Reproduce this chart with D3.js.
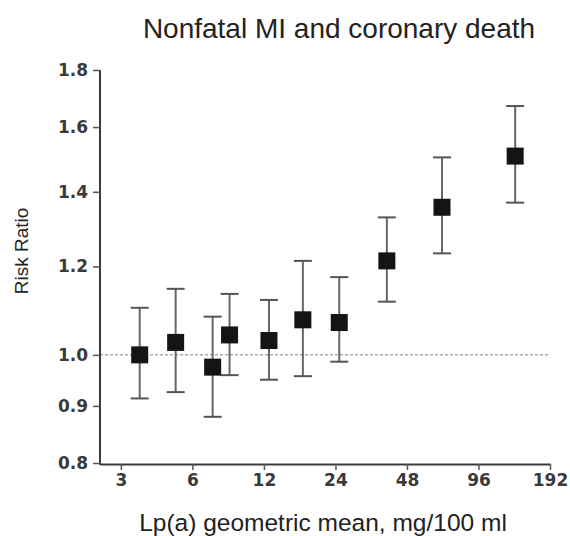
<!DOCTYPE html>
<html>
<head>
<meta charset="utf-8">
<script src="https://cdn.jsdelivr.net/npm/d3@7"></script>
<style>
  body { margin: 0; background: #fff; }
  svg { display: block; }
</style>
</head>
<body>
<div id="plotDiv"></div>
<script>
// --- Data ---
const lpaMeans = [3.6, 5.1, 7.3, 8.6, 12.6, 17.5, 24.9, 39.5, 67.4, 137];
const riskRatio = [1.00, 1.026, 0.975, 1.042, 1.030, 1.075, 1.069, 1.214, 1.356, 1.507];
const ciLower = [0.914, 0.926, 0.880, 0.959, 0.950, 0.957, 0.986, 1.116, 1.233, 1.369];
const ciUpper = [1.102, 1.146, 1.082, 1.134, 1.120, 1.214, 1.174, 1.328, 1.503, 1.671];
const xTicks = [3, 6, 12, 24, 48, 96, 192];
const yTicks = [0.8, 0.9, 1.0, 1.2, 1.4, 1.6, 1.8];

const points = lpaMeans.map((x, i) => ({x: x, rr: riskRatio[i], lo: ciLower[i], hi: ciUpper[i]}));

// --- SVG Setup ---
const width = 570, height = 536;
const svg = d3.select("#plotDiv")
  .append("svg")
  .attr("width", width)
  .attr("height", height);

// --- Scales ---
const x = d3.scaleLog().base(2).domain([2.45, 192]).range([100, 550]);
const y = d3.scaleLog().domain([0.8, 1.8]).range([463, 70]);

// reference line at 1.0
svg.append("line")
  .attr("x1", 100).attr("x2", 550)
  .attr("y1", y(1)).attr("y2", y(1))
  .attr("stroke", "#aaa")
  .attr("stroke-width", 1.5)
  .attr("stroke-dasharray", "3,2");

// --- Axes ---
const xAxis = svg.append("g")
  .attr("transform", `translate(0, 464)`)
  .call(d3.axisBottom(x).tickValues(xTicks).tickFormat(d3.format("d")).tickSize(6).tickSizeOuter(0).tickPadding(4));

const yAxis = svg.append("g")
  .attr("transform", `translate(100, 0)`)
  .call(d3.axisLeft(y).tickValues(yTicks).tickFormat(d3.format(".1f")).tickSize(7).tickSizeOuter(0).tickPadding(5));

[xAxis, yAxis].forEach(g => {
  g.select(".domain").attr("stroke", "#3a3a3a").attr("stroke-width", 2);
  g.selectAll(".tick line").attr("stroke", "#555").attr("stroke-width", 1.5);
  g.selectAll(".tick text")
    .attr("fill", "#3a3a3a")
    .style("font-family", "DejaVu Sans")
    .style("font-weight", "bold")
    .style("font-size", "17px");
});
// extend y axis line down to meet x axis
yAxis.select(".domain").attr("d", `M0,${y(1.8)}V465`);

// --- Error bars ---
const bars = svg.append("g").attr("class", "errorbars");
bars.selectAll("line.stem")
  .data(points)
  .join("line")
  .attr("class", "stem")
  .attr("x1", d => x(d.x)).attr("x2", d => x(d.x))
  .attr("y1", d => y(d.lo)).attr("y2", d => y(d.hi))
  .attr("stroke", "#666")
  .attr("stroke-width", 2);

["lo", "hi"].forEach(k => {
  bars.selectAll("line.cap-" + k)
    .data(points)
    .join("line")
    .attr("class", "cap-" + k)
    .attr("x1", d => x(d.x) - 9).attr("x2", d => x(d.x) + 9)
    .attr("y1", d => y(d[k])).attr("y2", d => y(d[k]))
    .attr("stroke", "#555")
    .attr("stroke-width", 2);
});

// --- Markers ---
const sq = 17;
svg.append("g").selectAll("rect")
  .data(points)
  .join("rect")
  .attr("x", d => x(d.x) - sq / 2)
  .attr("y", d => y(d.rr) - sq / 2)
  .attr("width", sq).attr("height", sq)
  .attr("fill", "#141414");

// --- Labels ---
svg.append("text")
  .attr("x", 339).attr("y", 38)
  .attr("text-anchor", "middle")
  .style("font-family", "Liberation Sans, Arial, sans-serif")
  .style("font-size", "28px")
  .attr("fill", "#222")
  .text("Nonfatal MI and coronary death");

svg.append("text")
  .attr("x", 323).attr("y", 531)
  .attr("text-anchor", "middle")
  .style("font-family", "Liberation Sans, Arial, sans-serif")
  .style("font-size", "24.5px")
  .attr("fill", "#222")
  .text("Lp(a) geometric mean, mg/100 ml");

svg.append("text")
  .attr("transform", "translate(28, 251) rotate(-90)")
  .attr("text-anchor", "middle")
  .style("font-family", "Liberation Sans, Arial, sans-serif")
  .style("font-size", "19px")
  .attr("fill", "#222")
  .text("Risk Ratio");
</script>
</body>
</html>
